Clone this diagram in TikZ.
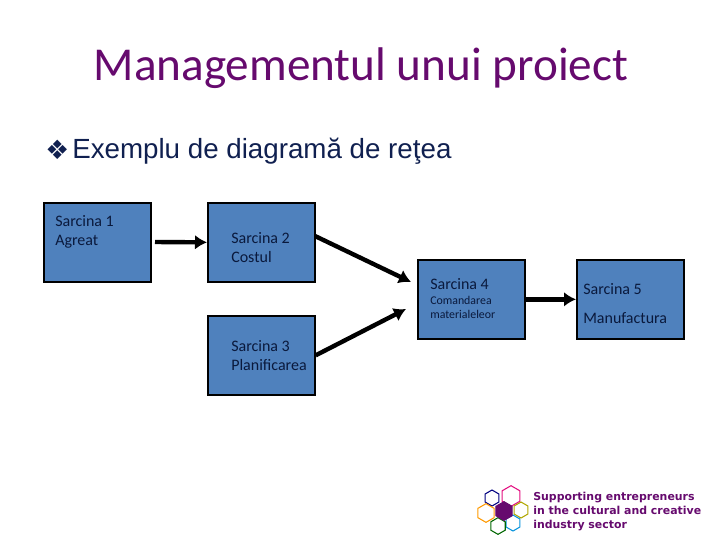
\documentclass[tikz,border=0pt]{standalone}
\usepackage{fontspec}
\setmainfont{Carlito}
\newfontfamily\armainfont{Liberation Sans}
\newfontfamily\dejafont{DejaVu Sans}
\usetikzlibrary{shapes.geometric,arrows.meta}
\definecolor{titlepurple}{RGB}{102,10,110}
\definecolor{navytext}{RGB}{16,32,80}
\definecolor{boxblue}{RGB}{79,129,189}
\definecolor{boxink}{RGB}{10,25,60}
\tikzset{
  taskbox/.style={draw=black,line width=1.5pt,fill=boxblue,minimum width=80pt,minimum height=59pt,anchor=north west},
  tasktext/.style={anchor=base west,inner sep=0pt,text=boxink,font=\fontsize{12}{14}\selectfont},
  smalltext/.style={anchor=base west,inner sep=0pt,text=boxink,font=\fontsize{8.9}{10}\selectfont},
  taskarrow/.style={line width=3.3pt,-{Latex[length=9pt,width=11pt]}},
  hexa/.style={regular polygon,regular polygon sides=6,shape border rotate=30,draw,line width=.8pt,inner sep=0pt},
  logotext/.style={anchor=base west,inner sep=0pt,text=titlepurple,font=\dejafont\bfseries\fontsize{8.2}{10}\selectfont}
}
\begin{document}
\begin{tikzpicture}[x=.75pt,y=-.75pt]
  \useasboundingbox (0,0) rectangle (720,540);
  \node[text=titlepurple,font=\fontsize{35.4}{40}\selectfont] (title) at (361,68) {Managementul unui proiect};
  \node[anchor=west,inner sep=0pt,text=navytext,font=\dejafont\fontsize{20}{22}\selectfont] (bullet) at (45,150) {❖};
  \node[anchor=west,inner sep=0pt,text=navytext,font=\armainfont\fontsize{20.8}{24}\selectfont] (subtitle) at (72,151) {Exemplu de diagramă de reţea};
  %% boxes
  \node[taskbox] (task1) at (43,202) {};
  \node[taskbox] (task2) at (207,202) {};
  \node[taskbox] (task3) at (207,315) {};
  \node[taskbox] (task4) at (417,259) {};
  \node[taskbox] (task5) at (576,259) {};
  %% labels
  \node[tasktext] (t1a) at (55,226) {Sarcina 1};
  \node[tasktext] (t1b) at (55,245) {Agreat};
  \node[tasktext] (t2a) at (231,243) {Sarcina 2};
  \node[tasktext] (t2b) at (231,262) {Costul};
  \node[tasktext] (t3a) at (231,351) {Sarcina 3};
  \node[tasktext] (t3b) at (231,370) {Planificarea};
  \node[tasktext] (t4a) at (430,289) {Sarcina 4};
  \node[smalltext] (t4b) at (430,304) {Comandarea};
  \node[smalltext] (t4c) at (430,318) {materialeleor};
  \node[tasktext] (t5a) at (583,294) {Sarcina 5};
  \node[tasktext] (t5b) at (583,323) {Manufactura};
  %% arrows
  \coordinate (start1) at (155,242);
  \coordinate (from2) at (315,236);
  \coordinate (end2) at (411,282);
  \coordinate (end3) at (406,309);
  \draw[taskarrow] (start1) -- (task2.west);
  \draw[taskarrow] (from2) -- (end2);
  \draw[taskarrow] (task3.east) -- (end3);
  \draw[taskarrow] (task4.east) -- (task5.west);
  %% logo
  \node[hexa,draw=blue!50!black,minimum size=12pt] (hexb) at (492,498) {};
  \node[hexa,draw=magenta!80!purple,minimum size=15.5pt] (hexm) at (511,496) {};
  \node[hexa,draw=orange!80!yellow,minimum size=14pt] (hexo) at (486,513) {};
  \node[hexa,draw=olive!70!yellow,minimum size=12pt] (hexy) at (521,510) {};
  \node[hexa,draw=cyan!80!blue,minimum size=12pt] (hexc) at (513,523) {};
  \node[hexa,draw=green!40!black,minimum size=12.5pt] (hexg) at (498,526) {};
  \node[hexa,draw=titlepurple,fill=titlepurple,minimum size=14pt] (hexp) at (504,511) {};
  \node[logotext] (l1) at (533,500) {Supporting entrepreneurs};
  \node[logotext] (l2) at (533,514) {in the cultural and creative};
  \node[logotext] (l3) at (533,528) {industry sector};
\end{tikzpicture}
\end{document}
